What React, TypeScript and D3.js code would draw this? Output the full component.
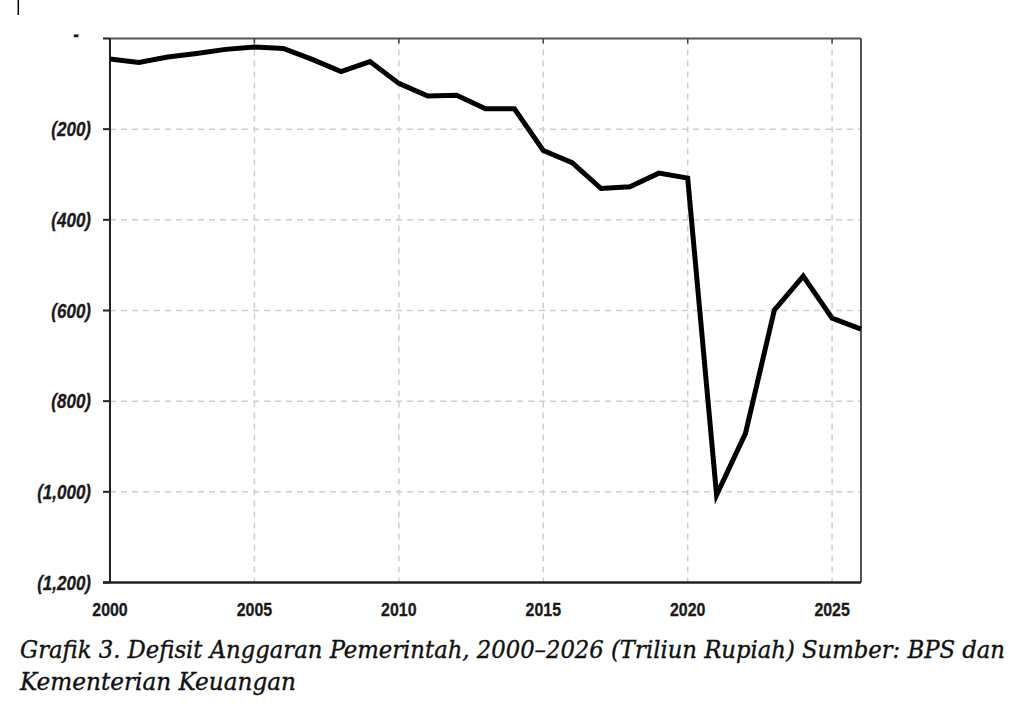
import React from "react";
import * as d3 from "d3";

const years: number[] = [2000,2001,2002,2003,2004,2005,2006,2007,2008,2009,2010,2011,2012,2013,2014,2015,2016,2017,2018,2019,2020,2021,2022,2023,2024,2025,2026];
const deficit: number[] = [-45,-53,-41,-33,-24,-19,-22,-46,-73,-51,-99,-127,-125,-155,-155,-247,-274,-331,-327,-297,-308,-1007,-871,-599,-524,-617,-641];
const yTicks: number[] = [0,-200,-400,-600,-800,-1000,-1200];
const xTicks: number[] = [2000,2005,2010,2015,2020,2025];
const captionLine1 = "Grafik 3. Defisit Anggaran Pemerintah, 2000–2026 (Triliun Rupiah) Sumber: BPS dan";
const captionLine2 = "Kementerian Keuangan";

const W = 1024, H = 722;
const L = 110, R = 861, T = 38.5, B = 582.5;

export default function App() {
  const x = d3.scaleLinear().domain([2000, 2026]).range([L, R]);
  const y = d3.scaleLinear().domain([0, -1200]).range([T, B]);
  const line = d3.line<number>().x((_, i) => x(years[i])).y((d) => y(d));
  const fmt = (v: number) => (v === 0 ? "-" : "(" + d3.format(",")(Math.abs(v)) + ")");
  const labelFont = "'Liberation Sans', Arial, sans-serif";
  const capFont = "'DejaVu Serif Condensed', 'DejaVu Serif', serif";

  return (
    <svg width={W} height={H} style={{ position: "absolute", left: 0, top: 0, background: "#fff" }}>
      <rect x={0} y={0} width={W} height={H} fill="#fff" />
      <line x1={18.3} x2={18.3} y1={0} y2={15} stroke="#000" strokeWidth={1.5} />
      {/* grid */}
      {yTicks.filter((v) => v !== 0 && v !== -1200).map((v) => (
        <line key={"gy" + v} x1={L} x2={R} y1={y(v)} y2={y(v)} stroke="#cfcfcf" strokeWidth={1.5} strokeDasharray="6 5" />
      ))}
      {xTicks.filter((v) => v !== 2000).map((v) => (
        <line key={"gx" + v} x1={x(v)} x2={x(v)} y1={T} y2={B} stroke="#cfcfcf" strokeWidth={1.5} strokeDasharray="6 5" />
      ))}
      {/* frame */}
      <line x1={L} x2={R} y1={T} y2={T} stroke="#555" strokeWidth={2} />
      <line x1={R} x2={R} y1={T} y2={B} stroke="#555" strokeWidth={2} />
      {xTicks.filter((v) => v !== 2000).map((v) => (
        <line key={"tt" + v} x1={x(v)} x2={x(v)} y1={T} y2={T + 5} stroke="#444" strokeWidth={1.5} />
      ))}
      {/* y axis */}
      <line x1={L} x2={L} y1={T} y2={B} stroke="#222" strokeWidth={2} />
      {yTicks.map((v) => (
        <g key={"yt" + v}>
          <line x1={L - 7} x2={L} y1={y(v)} y2={y(v)} stroke="#222" strokeWidth={2} />
          <text transform={`translate(${v === 0 ? 79 : 91},${y(v)}) scale(0.85,1)`} dy={v === 0 ? "0.1em" : "0.36em"} textAnchor="end" fontFamily={labelFont} fontWeight="bold" fontStyle="italic" fontSize={20} fill="#1a1a1a" stroke="#1a1a1a" strokeWidth={0.3}>
            {fmt(v)}
          </text>
        </g>
      ))}
      {/* x axis */}
      <line x1={L - 7} x2={R} y1={B} y2={B} stroke="#222" strokeWidth={2.5} />
      {xTicks.map((v) => (
        <text key={"xl" + v} transform={`translate(${x(v)},616) scale(0.84,1)`} textAnchor="middle" fontFamily={labelFont} fontWeight="bold" fontSize={19} fill="#1a1a1a" stroke="#1a1a1a" strokeWidth={0.3}>
          {v}
        </text>
      ))}
      {/* series */}
      <path d={line(deficit) || ""} fill="none" stroke="#000" strokeWidth={5} strokeLinejoin="miter" strokeMiterlimit={6} />
      {/* caption */}
      <text x={20} y={658} fontFamily={capFont} fontStyle="italic" fontSize={25} fill="#111" stroke="#111" strokeWidth={0.35} textLength={985} lengthAdjust="spacingAndGlyphs">
        {captionLine1}
      </text>
      <text x={20} y={690} fontFamily={capFont} fontStyle="italic" fontSize={25} fill="#111" stroke="#111" strokeWidth={0.35} textLength={276} lengthAdjust="spacingAndGlyphs">
        {captionLine2}
      </text>
    </svg>
  );
}
